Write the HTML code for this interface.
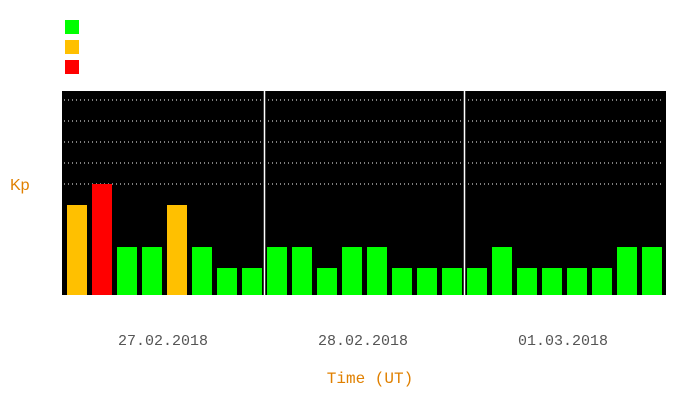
<!DOCTYPE html>
<html><head><meta charset="utf-8"><style>
body{margin:0;background:#fff;width:700px;height:400px;overflow:hidden;font-family:"Liberation Mono",monospace}
</style></head><body>
<svg id="c" width="700" height="400">
<rect x="65" y="20" width="14" height="14" fill="#00ff00"/>
<rect x="65" y="40" width="14" height="14" fill="#ffc000"/>
<rect x="65" y="60" width="14" height="14" fill="#ff0000"/>
<rect x="62" y="91" width="604" height="204" fill="#000"/>
<text x="10" y="190" fill="#e08000" font-size="16" font-family="Liberation Sans, sans-serif">Kp</text>
<text x="370" y="383" fill="#e08000" font-size="16" text-anchor="middle">Time (UT)</text>
</svg>
<script>
const days=["27.02.2018","28.02.2018","01.03.2018"];
const kp=[4,5,2,2,4,2,1,1, 2,2,1,2,2,1,1,1, 1,2,1,1,1,1,2,2];
const grid=[5,6,7,8,9];
const svg=document.getElementById('c');const NS="http://www.w3.org/2000/svg";
function y(v){return 289-21*v;}
function x(i){return 67+25*i;}
function mk(t,a){const e=document.createElementNS(NS,t);for(const k in a)e.setAttribute(k,a[k]);svg.appendChild(e);return e;}
grid.forEach(g=>{const l=mk('line',{x1:64,x2:664,y1:y(g),y2:y(g),stroke:'#fff','stroke-width':1,'stroke-dasharray':'1 3'});

});
kp.forEach((v,i)=>{const c=v>=5?'#ff0000':v>=4?'#ffc000':'#00ff00';
const r=mk('rect',{x:x(i),y:y(v),width:20,height:295-y(v),fill:c});

});
[1,2].forEach(d=>{const l=mk('line',{x1:64.5+200*d,x2:64.5+200*d,y1:91,y2:295,stroke:'#fff','stroke-width':1.5});

});
days.forEach((d,i)=>{const t=mk('text',{x:163+200*i,y:345,'text-anchor':'middle','font-size':15,fill:'#555'});t.textContent=d;

});
</script>
</body></html>
